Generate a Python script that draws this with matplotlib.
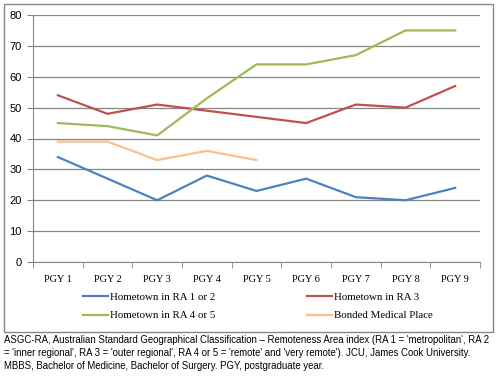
import matplotlib
matplotlib.use("Agg")
import matplotlib.pyplot as plt
from matplotlib.patches import Rectangle

# data
years = ["PGY 1", "PGY 2", "PGY 3", "PGY 4", "PGY 5", "PGY 6", "PGY 7", "PGY 8", "PGY 9"]
ra12 = [34, 27, 20, 28, 23, 27, 21, 20, 24]
ra3 = [54, 48, 51, 49, 47, 45, 51, 50, 57]
ra45 = [45, 44, 41, 53, 64, 64, 67, 75, 75]
bonded = [39, 39, 33, 36, 33]

caption = ("ASGC-RA, Australian Standard Geographical Classification \u2013 Remoteness Area index (RA 1 = 'metropolitan', RA 2\n"
           "= 'inner regional', RA 3 = 'outer regional', RA 4 or 5 = 'remote' and 'very remote'). JCU, James Cook University.\n"
           "MBBS, Bachelor of Medicine, Bachelor of Surgery. PGY, postgraduate year.")

W, H = 496, 382
fig = plt.figure(figsize=(W / 100, H / 100), dpi=100)
fig.patch.set_facecolor("white")

# outer chart frame
fig.add_artist(Rectangle((4 / W, 1 - 332 / H), 489 / W, 328 / H, transform=fig.transFigure,
                         fill=False, edgecolor="#868686", linewidth=1))

ax = fig.add_axes([33 / W, 1 - 262 / H, 447 / W, 247 / H])
x = list(range(len(years)))
l1, = ax.plot(x, ra12, color="#4F81BD", lw=1.6, label="Hometown in RA 1 or 2")
l2, = ax.plot(x, ra3, color="#C0504D", lw=1.6, label="Hometown in RA 3")
l3, = ax.plot(x, ra45, color="#9BBB59", lw=1.6, label="Hometown in RA 4 or 5")
l4, = ax.plot(x[:len(bonded)], bonded, color="#FAC090", lw=1.6, label="Bonded Medical Place")

ax.set_xlim(-0.5, len(years) - 0.5)
ax.set_ylim(0, 80)
ax.set_yticks(range(0, 81, 10))
ax.yaxis.grid(True, color="#868686", lw=0.9)
ax.set_axisbelow(True)
for s in ["top", "right"]:
    ax.spines[s].set_visible(False)
for s in ["left", "bottom"]:
    ax.spines[s].set_color("#868686")
ax.set_xticks(x)
ax.set_xticklabels(years, fontfamily="Liberation Serif", fontsize=7.5)
ax.set_xticks([i - 0.5 for i in range(len(years) + 1)], minor=True)
ax.tick_params(axis="x", which="major", length=0, pad=9)
ax.tick_params(axis="x", which="minor", length=4, color="#868686")
ax.tick_params(axis="y", length=4, color="#868686", labelsize=8, pad=4)
for t in ax.get_yticklabels():
    t.set_fontfamily("Liberation Sans")

fig.legend(handles=[l1, l3, l2, l4], loc="center", bbox_to_anchor=(0.52, 1 - 306.5 / H), ncol=2,
           frameon=False, prop={"family": "Liberation Serif", "size": 7.8},
           handlelength=2.3, handletextpad=0.2, columnspacing=8.5, labelspacing=0.8)

fig.text(4 / W, 1 - 335 / H, caption, ha="left", va="top", fontsize=6.9,
         fontfamily="Liberation Sans", linespacing=1.4)

fig.savefig("out.png", dpi=100)
